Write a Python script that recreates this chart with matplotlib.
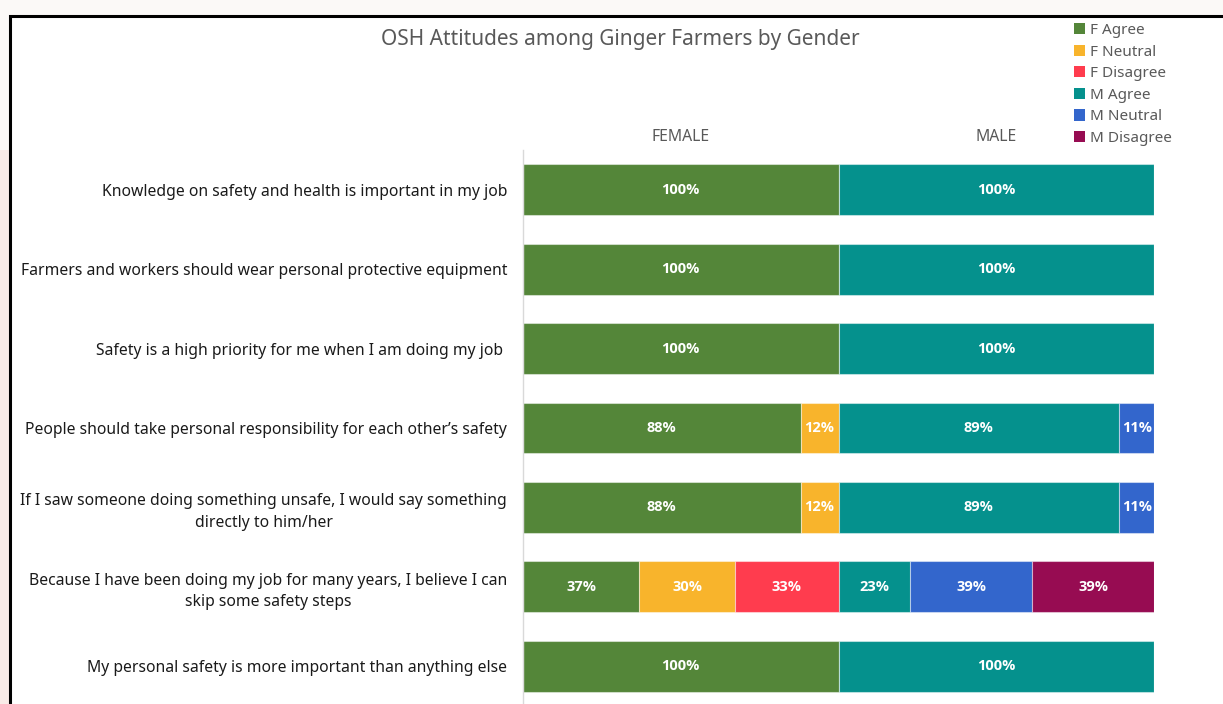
import matplotlib.pyplot as plt
from matplotlib.patches import Patch, Rectangle
import numpy as np

plt.rcParams['font.family'] = ['Noto Sans', 'DejaVu Sans']

### data ###
statements = [
    'Knowledge on safety and health is important in my job',
    'Farmers and workers should wear personal protective equipment',
    'Safety is a high priority for me when I am doing my job ',
    'People should take personal responsibility for each other\u2019s safety',
    'If I saw someone doing something unsafe, I would say something\ndirectly to him/her',
    'Because I have been doing my job for many years, I believe I can\nskip some safety steps',
    'My personal safety is more important than anything else',
]
f_agree    = [100, 100, 100, 88, 88, 36.8, 100]
f_neutral  = [0, 0, 0, 12, 12, 30.5, 0]
f_disagree = [0, 0, 0, 0, 0, 32.7, 0]
m_agree    = [100, 100, 100, 89, 89, 22.8, 100]
m_neutral  = [0, 0, 0, 11, 11, 38.6, 0]
m_disagree = [0, 0, 0, 0, 0, 38.6, 0]

series_names = ['F Agree', 'F Neutral', 'F Disagree', 'M Agree', 'M Neutral', 'M Disagree']
colors = ['#548639', '#F8B42C', '#FF3C4E', '#05918D', '#3366CC', '#970C52']
groups = ['FEMALE', 'MALE']

### figure ###
fig = plt.figure(figsize=(12.23, 7.04), dpi=100, facecolor='#fbf9f7')
# pinkish strip on the left, white panel with black frame
fig.patches.append(Rectangle((0, 0), 10/1223, (704-150)/704, transform=fig.transFigure,
                             facecolor='#f9ebe7', edgecolor='none', zorder=-2))
fig.patches.append(Rectangle((10/1223, -0.05), 1.1, (704-16)/704 + 0.05, transform=fig.transFigure,
                             facecolor='white', edgecolor='black', linewidth=2.2, zorder=-1))

ax = fig.add_axes([523/1223, -2/704, 631/1223, 556/704])
ax.set_facecolor('none')
ax.set_zorder(2)

y = np.arange(len(statements))
all_series = [f_agree, f_neutral, f_disagree, m_agree, m_neutral, m_disagree]
left_f = np.zeros(len(statements))
left_m = np.full(len(statements), 100.0)
for i, (vals, col) in enumerate(zip(all_series, colors)):
    vals = np.array(vals, dtype=float)
    base = left_f if i < 3 else left_m
    bars = ax.barh(y, vals, left=base, height=0.64, color=col,
                   edgecolor=(1, 1, 1, 0.45), linewidth=0.8)
    for b, v in zip(bars, vals):
        if v > 0:
            ax.text(b.get_x() + b.get_width()/2, b.get_y() + b.get_height()/2,
                    f'{round(v):.0f}%', ha='center', va='center',
                    color='white', fontsize=10.5, fontweight='bold',
                    family=['Open Sans', 'DejaVu Sans'])
    base += vals

ax.set_xlim(0, 200)
ax.set_ylim(len(statements) - 0.5, -0.5)
ax.set_yticks(y, statements, fontsize=11.3, color='#1a1a1a', multialignment='center',
              linespacing=1.45)
ax.tick_params(axis='y', length=0, pad=11.5)
ax.set_xticks([50, 150], groups)
ax.xaxis.tick_top()
ax.tick_params(axis='x', length=0, pad=3.5, labelsize=11.3, labelcolor='#595959')
for s in ['top', 'right', 'bottom']:
    ax.spines[s].set_visible(False)
ax.spines['left'].set_color('#d9d9d9')
ax.spines['left'].set_linewidth(1)

fig.text(620/1223, (704-39)/704, 'OSH Attitudes among Ginger Farmers by Gender',
         ha='center', va='center', fontsize=15, color='#595959')

handles = [Patch(facecolor=c, label=n) for n, c in zip(series_names, colors)]
fig.legend(handles=handles, loc='upper left', bbox_to_anchor=(1074/1223, (704-23)/704),
           frameon=False, fontsize=11, labelcolor='#595959',
           handlelength=0.75, handleheight=0.75, handletextpad=0.3,
           labelspacing=0.43, borderpad=0, borderaxespad=0)

fig.savefig('out.png', dpi=100, facecolor=fig.get_facecolor())
